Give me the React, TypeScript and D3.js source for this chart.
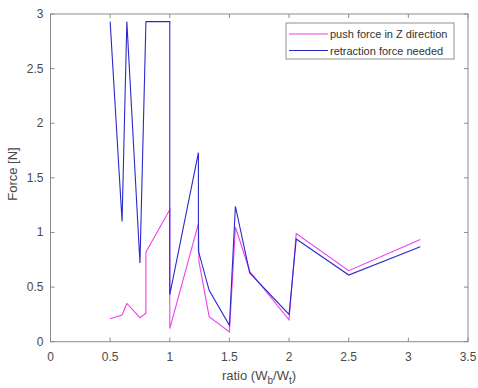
import React from "react";
import * as d3 from "d3";

const pushX = [0.5, 0.6, 0.64, 0.75, 0.8, 0.8, 1.0, 1.0, 1.24, 1.245, 1.33, 1.5, 1.55, 1.67, 2.0, 2.06, 2.5, 3.1];
const pushY = [0.21, 0.245, 0.35, 0.22, 0.26, 0.82, 1.21, 0.12, 1.08, 0.73, 0.23, 0.09, 1.05, 0.645, 0.2, 0.99, 0.65, 0.935];
const retrX = [0.5, 0.6, 0.64, 0.75, 0.8, 1.0, 1.0, 1.24, 1.24, 1.33, 1.5, 1.55, 1.67, 2.0, 2.06, 2.5, 3.1];
const retrY = [2.93, 1.1, 2.93, 0.72, 2.93, 2.93, 0.43, 1.73, 0.83, 0.47, 0.15, 1.24, 0.63, 0.25, 0.94, 0.61, 0.87];
const xTicks = [0, 0.5, 1, 1.5, 2, 2.5, 3, 3.5];
const yTicks = [0, 0.5, 1, 1.5, 2, 2.5, 3];
const seriesNames = ["push force in Z direction", "retraction force needed"];
const seriesColors = ["#f040f0", "#2a2acc"];

const W = 478, H = 388;
const L = 50.5, R = 468, T = 14, B = 341.7;

export default function App() {
  const x = d3.scaleLinear().domain([0, 3.5]).range([L, R]);
  const y = d3.scaleLinear().domain([0, 3]).range([B, T]);
  const line = d3.line<[number, number]>().x(d => x(d[0])).y(d => y(d[1]));
  const pushPts = pushX.map((v, i) => [v, pushY[i]] as [number, number]);
  const retrPts = retrX.map((v, i) => [v, retrY[i]] as [number, number]);
  const axisColor = "#8c8c8c";
  const textColor = "#4a4a4a";
  const font = "'Liberation Sans', Arial, sans-serif";
  const tl = 4;
  return (
    <svg width={W} height={H} style={{ position: "absolute", left: 0, top: 0, background: "#fff" }} fontFamily={font}>
      <rect x={0} y={0} width={W} height={H} fill="#fff" />
      <path d={line(pushPts) || ""} fill="none" stroke={seriesColors[0]} strokeWidth={1.1} />
      <path d={line(retrPts) || ""} fill="none" stroke={seriesColors[1]} strokeWidth={1.1} />
      <rect x={L} y={T} width={R - L} height={B - T} fill="none" stroke={axisColor} strokeWidth={1} />
      {xTicks.map(t => (
        <g key={"x" + t}>
          <line x1={x(t)} x2={x(t)} y1={B} y2={B - tl} stroke={axisColor} />
          <line x1={x(t)} x2={x(t)} y1={T} y2={T + tl} stroke={axisColor} />
          <text x={x(t)} y={B + 19} textAnchor="middle" fontSize={12} fill={textColor}>{t}</text>
        </g>
      ))}
      {yTicks.map(t => (
        <g key={"y" + t}>
          <line x1={L} x2={L + tl} y1={y(t)} y2={y(t)} stroke={axisColor} />
          <line x1={R} x2={R - tl} y1={y(t)} y2={y(t)} stroke={axisColor} />
          <text x={L - 7} y={y(t) + 4} textAnchor="end" fontSize={12} fill={textColor}>{t}</text>
        </g>
      ))}
      <text x={259} y={380} textAnchor="middle" fontSize={13} fill={textColor}>
        ratio (W<tspan fontSize={10} dy={4}>b</tspan><tspan dy={-4}>/W</tspan><tspan fontSize={10} dy={4}>t</tspan><tspan dy={-4}>)</tspan>
      </text>
      <text transform={`translate(17,174) rotate(-90)`} textAnchor="middle" fontSize={13} fill={textColor}>Force [N]</text>
      <rect x={286} y={23} width={168} height={36} fill="#fff" stroke="#909090" strokeWidth={1} />
      {seriesNames.map((n, i) => (
        <g key={n}>
          <line x1={289} x2={328} y1={34 + i * 16.5} y2={34 + i * 16.5} stroke={seriesColors[i]} strokeWidth={1.1} />
          <text x={330} y={34 + i * 16.5 + 4} fontSize={11} fill="#333">{n}</text>
        </g>
      ))}
    </svg>
  );
}
